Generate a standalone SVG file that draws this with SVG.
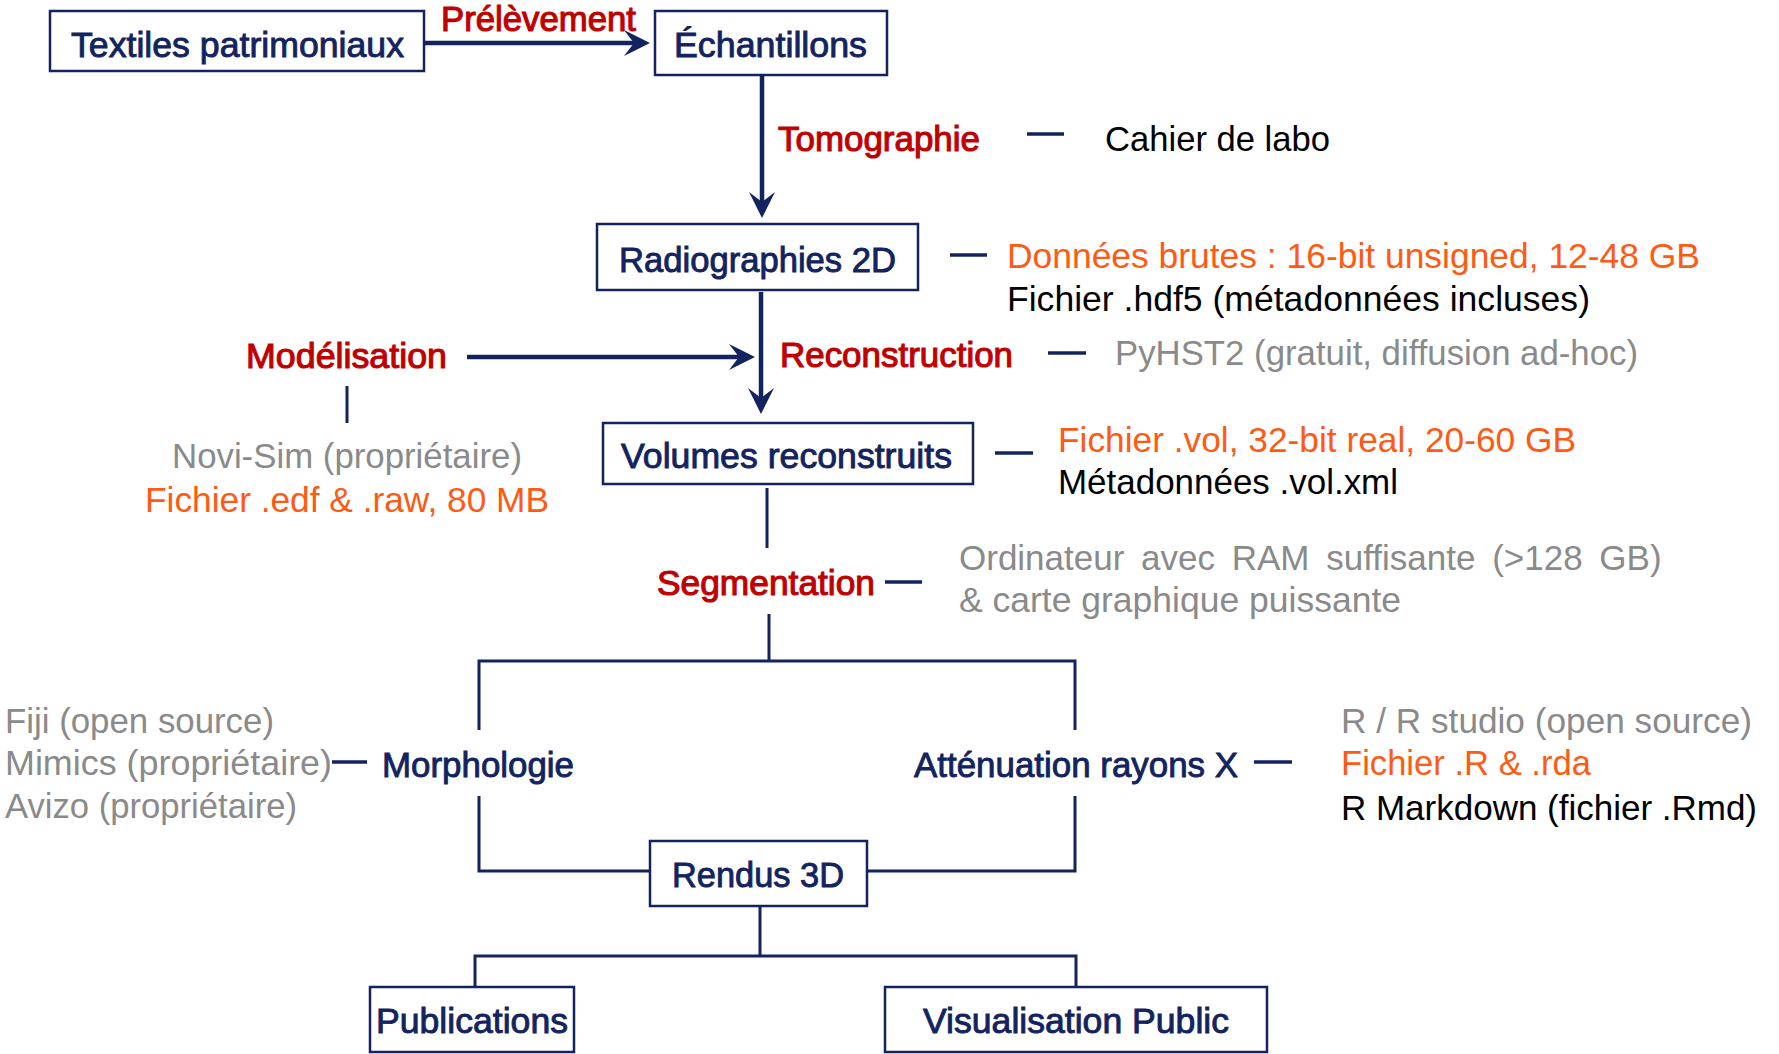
<svg xmlns="http://www.w3.org/2000/svg" width="1779" height="1054" viewBox="0 0 1779 1054">
<style>
.box{fill:#fff;stroke:#13235F;stroke-width:2.5}
.nt{font-family:"Liberation Sans",Arial,sans-serif;font-size:35px;fill:#13235F;stroke:#13235F;stroke-width:0.9}
.rt{font-family:"Liberation Sans",Arial,sans-serif;font-size:35px;fill:#C00000;stroke:#C00000;stroke-width:1.1}
.t{font-family:"Liberation Sans",Arial,sans-serif;font-size:35px}
.k{fill:#000}
.g{fill:#8A8A8A}
.o{fill:#FF5A14}
.ln{fill:none;stroke:#13235F;stroke-width:3}
.ar{fill:none;stroke:#13235F;stroke-width:4.5}
.dash{stroke:#13235F;stroke-width:3.5}
</style>
<defs>
<marker id="ah" viewBox="0 0 26 26" refX="16" refY="13" markerWidth="26" markerHeight="26" markerUnits="userSpaceOnUse" orient="auto">
<path d="M0,0 L26,13 L0,26 L10,13 Z" fill="#13235F"/>
</marker>
</defs>
<rect width="1779" height="1054" fill="#fff"/>

<g id="connectors">
<line class="ar" x1="424" y1="43" x2="640" y2="43" marker-end="url(#ah)"/>
<line class="ar" x1="762" y1="76" x2="762" y2="208" marker-end="url(#ah)"/>
<line class="ar" x1="761" y1="292" x2="761" y2="404" marker-end="url(#ah)"/>
<line class="ar" x1="467" y1="357" x2="745" y2="357" marker-end="url(#ah)"/>
<line class="ln" x1="347" y1="386" x2="347" y2="423"/>
<line class="ln" x1="767" y1="488" x2="767" y2="548"/>
<polyline class="ln" points="769,614 769,661"/>
<polyline class="ln" points="479,730 479,661 1075,661 1075,730"/>
<polyline class="ln" points="479,796 479,871 650,871"/>
<polyline class="ln" points="1075,796 1075,871 867,871"/>
<polyline class="ln" points="760,906 760,956"/>
<polyline class="ln" points="475,987 475,956 1076,956 1076,987"/>
<line class="dash" x1="1027" y1="134" x2="1064" y2="134"/>
<line class="dash" x1="950" y1="255" x2="987" y2="255"/>
<line class="dash" x1="1048" y1="353" x2="1086" y2="353"/>
<line class="dash" x1="995" y1="453" x2="1033" y2="453"/>
<line class="dash" x1="885" y1="582" x2="922" y2="582"/>
<line class="dash" x1="332" y1="762" x2="367" y2="762"/>
<line class="dash" x1="1254" y1="762" x2="1292" y2="762"/>
</g>

<g id="textiles">
<rect class="box" x="50" y="11" width="374" height="60"/>
<text class="nt" x="71" y="57" textLength="333" lengthAdjust="spacingAndGlyphs">Textiles patrimoniaux</text>
</g>
<g id="echantillons">
<rect class="box" x="655" y="11" width="232" height="64"/>
<text class="nt" x="674" y="57" textLength="193" lengthAdjust="spacingAndGlyphs">Échantillons</text>
</g>
<g id="radiographies">
<rect class="box" x="597" y="224" width="321" height="66"/>
<text class="nt" x="619" y="272" textLength="277" lengthAdjust="spacingAndGlyphs">Radiographies 2D</text>
</g>
<g id="volumes">
<rect class="box" x="603" y="423" width="370" height="61"/>
<text class="nt" x="621" y="468" textLength="331" lengthAdjust="spacingAndGlyphs">Volumes reconstruits</text>
</g>
<g id="morphologie">
<text class="nt" x="382" y="777" textLength="192" lengthAdjust="spacingAndGlyphs">Morphologie</text>
</g>
<g id="attenuation">
<text class="nt" x="914" y="777" textLength="324" lengthAdjust="spacingAndGlyphs">Atténuation rayons X</text>
</g>
<g id="rendus">
<rect class="box" x="650" y="841" width="217" height="65"/>
<text class="nt" x="672" y="887" textLength="172" lengthAdjust="spacingAndGlyphs">Rendus 3D</text>
</g>
<g id="publications">
<rect class="box" x="370" y="987" width="204" height="65"/>
<text class="nt" x="376" y="1033" textLength="192" lengthAdjust="spacingAndGlyphs">Publications</text>
</g>
<g id="visualisation">
<rect class="box" x="885" y="987" width="382" height="65"/>
<text class="nt" x="923" y="1033" textLength="306" lengthAdjust="spacingAndGlyphs">Visualisation Public</text>
</g>

<g id="labels">
<text class="rt" x="441" y="31" textLength="195" lengthAdjust="spacingAndGlyphs">Prélèvement</text>
<text class="rt" x="778" y="151" textLength="202" lengthAdjust="spacingAndGlyphs">Tomographie</text>
<text class="rt" x="246" y="368" textLength="201" lengthAdjust="spacingAndGlyphs">Modélisation</text>
<text class="rt" x="780" y="367" textLength="233" lengthAdjust="spacingAndGlyphs">Reconstruction</text>
<text class="rt" x="657" y="595" textLength="218" lengthAdjust="spacingAndGlyphs">Segmentation</text>
</g>

<g id="notes">
<text class="t k" x="1105" y="151" textLength="225" lengthAdjust="spacingAndGlyphs">Cahier de labo</text>
<text class="t o" x="1007" y="268" textLength="693" lengthAdjust="spacingAndGlyphs">Données brutes : 16-bit unsigned, 12-48 GB</text>
<text class="t k" x="1007" y="311" textLength="583" lengthAdjust="spacingAndGlyphs">Fichier .hdf5 (métadonnées incluses)</text>
<text class="t g" x="1115" y="365" textLength="523" lengthAdjust="spacingAndGlyphs">PyHST2 (gratuit, diffusion ad-hoc)</text>
<text class="t g" x="172" y="468" textLength="350" lengthAdjust="spacingAndGlyphs">Novi-Sim (propriétaire)</text>
<text class="t o" x="145" y="512" textLength="404" lengthAdjust="spacingAndGlyphs">Fichier .edf &amp; .raw, 80 MB</text>
<text class="t o" x="1058" y="452" textLength="518" lengthAdjust="spacingAndGlyphs">Fichier .vol, 32-bit real, 20-60 GB</text>
<text class="t k" x="1058" y="494" textLength="340" lengthAdjust="spacingAndGlyphs">Métadonnées .vol.xml</text>
<text class="t g" x="959" y="570" word-spacing="7">Ordinateur avec RAM suffisante (&gt;128 GB)</text>
<text class="t g" x="959" y="612" textLength="442" lengthAdjust="spacingAndGlyphs">&amp; carte graphique puissante</text>
<text class="t g" x="5" y="733" textLength="269" lengthAdjust="spacingAndGlyphs">Fiji (open source)</text>
<text class="t g" x="5" y="775" textLength="327" lengthAdjust="spacingAndGlyphs">Mimics (propriétaire)</text>
<text class="t g" x="5" y="818" textLength="292" lengthAdjust="spacingAndGlyphs">Avizo (propriétaire)</text>
<text class="t g" x="1341" y="733" textLength="411" lengthAdjust="spacingAndGlyphs">R / R studio (open source)</text>
<text class="t o" x="1341" y="775" textLength="250" lengthAdjust="spacingAndGlyphs">Fichier .R &amp; .rda</text>
<text class="t k" x="1341" y="820" textLength="416" lengthAdjust="spacingAndGlyphs">R Markdown (fichier .Rmd)</text>
</g>
</svg>
